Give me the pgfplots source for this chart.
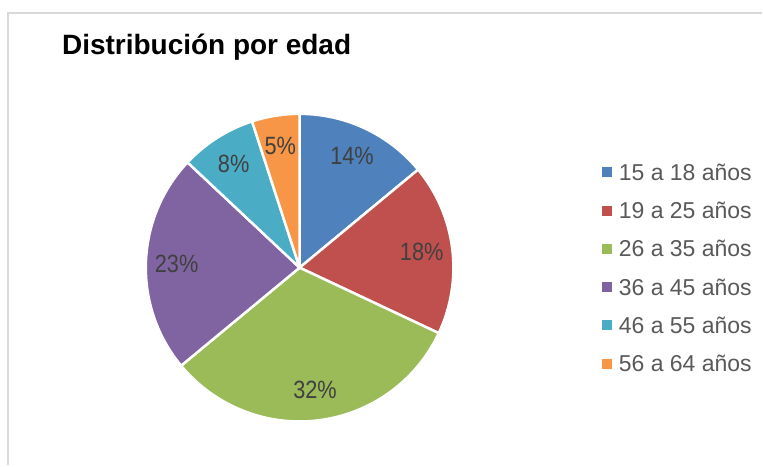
\documentclass[border=0pt]{standalone}
\usepackage{pgfplots}
\pgfplotsset{compat=1.18}
\usepackage{pgfplotstable}
\usepackage{fontspec}
\setmainfont{Liberation Sans}
\newfontfamily\narrowfont[FakeStretch=0.87]{Liberation Sans}

\definecolor{c0}{HTML}{4F81BD}
\definecolor{c1}{HTML}{C0504D}
\definecolor{c2}{HTML}{9BBB59}
\definecolor{c3}{HTML}{8064A2}
\definecolor{c4}{HTML}{4BACC6}
\definecolor{c5}{HTML}{F79646}
\definecolor{lbl}{HTML}{404040}
\definecolor{legtxt}{HTML}{595959}
\definecolor{frame}{HTML}{D9D9D9}

% distribucion por edad (porcentaje)
\pgfplotstableread[col sep=comma,row sep=\\]{
grupo,valor\\
15 a 18 años,14\\
19 a 25 años,18\\
26 a 35 años,32\\
36 a 45 años,23\\
46 a 55 años,8\\
56 a 64 años,5\\
}\edad

% start / end / middle angle of every slice, clockwise from 12 o'clock
\def\cum{90}%
\pgfplotsforeachungrouped \i in {0,...,5}{%
  \pgfplotstablegetelem{\i}{valor}\of\edad
  \expandafter\xdef\csname pv\i\endcsname{\pgfplotsretval}%
  \pgfmathsetmacro\ang{\pgfplotsretval*3.6}%
  \expandafter\xdef\csname sa\i\endcsname{\cum}%
  \pgfmathsetmacro\midang{\cum-\ang/2}%
  \expandafter\xdef\csname ma\i\endcsname{\midang}%
  \pgfmathsetmacro\cumnew{\cum-\ang}%
  \expandafter\xdef\csname ea\i\endcsname{\cumnew}%
  \global\let\cum\cumnew
}

\begin{document}
\begin{tikzpicture}
\path (0pt,0pt) rectangle (763pt,466pt);
\draw[frame, line width=2pt] (8pt,0pt) -- (8pt,453pt) -- (763pt,453pt);
\node[anchor=base west, font=\fontsize{28}{32}\selectfont\bfseries, inner sep=0pt]
  at (62pt,411pt) {Distribución por edad};

\begin{axis}[
    at={(300pt,198pt)}, anchor=origin,
    scale only axis,
    width=308pt, height=308pt,
    xmin=-1, xmax=1, ymin=-1, ymax=1,
    hide axis,
    clip=false,
    legend style={at={(1.484,0.5)}, anchor=west, draw=none, fill=none,
        inner sep=0pt, row sep=21.8pt, column sep=7pt,
        font=\fontsize{23}{26}\selectfont, text=legtxt,
        nodes={inner sep=0pt, text height=16.5pt, text depth=0pt, anchor=base west}},
    legend cell align=left,
    legend image code/.code={\fill[#1] (0pt,3.8pt) rectangle (9pt,12.8pt);},
]
\pgfplotsinvokeforeach{0,...,5}{%
  \fill[c#1, draw=white, line width=2.5pt, line join=round]
    (axis cs:0,0) -- (axis cs:{cos(\csname sa#1\endcsname)},{sin(\csname sa#1\endcsname)})
    arc[start angle=\csname sa#1\endcsname, end angle=\csname ea#1\endcsname, radius=1] -- cycle;
}
\pgfplotsinvokeforeach{0,...,5}{%
  \node[text=lbl, font=\narrowfont\fontsize{25}{27}\selectfont]
    at (axis cs:{0.8*cos(\csname ma#1\endcsname)},{0.8*sin(\csname ma#1\endcsname)})
    {\csname pv#1\endcsname\%};
}
\addlegendimage{c0}\addlegendentry{15 a 18 años}
\addlegendimage{c1}\addlegendentry{19 a 25 años}
\addlegendimage{c2}\addlegendentry{26 a 35 años}
\addlegendimage{c3}\addlegendentry{36 a 45 años}
\addlegendimage{c4}\addlegendentry{46 a 55 años}
\addlegendimage{c5}\addlegendentry{56 a 64 años}
\end{axis}
\end{tikzpicture}
\end{document}
